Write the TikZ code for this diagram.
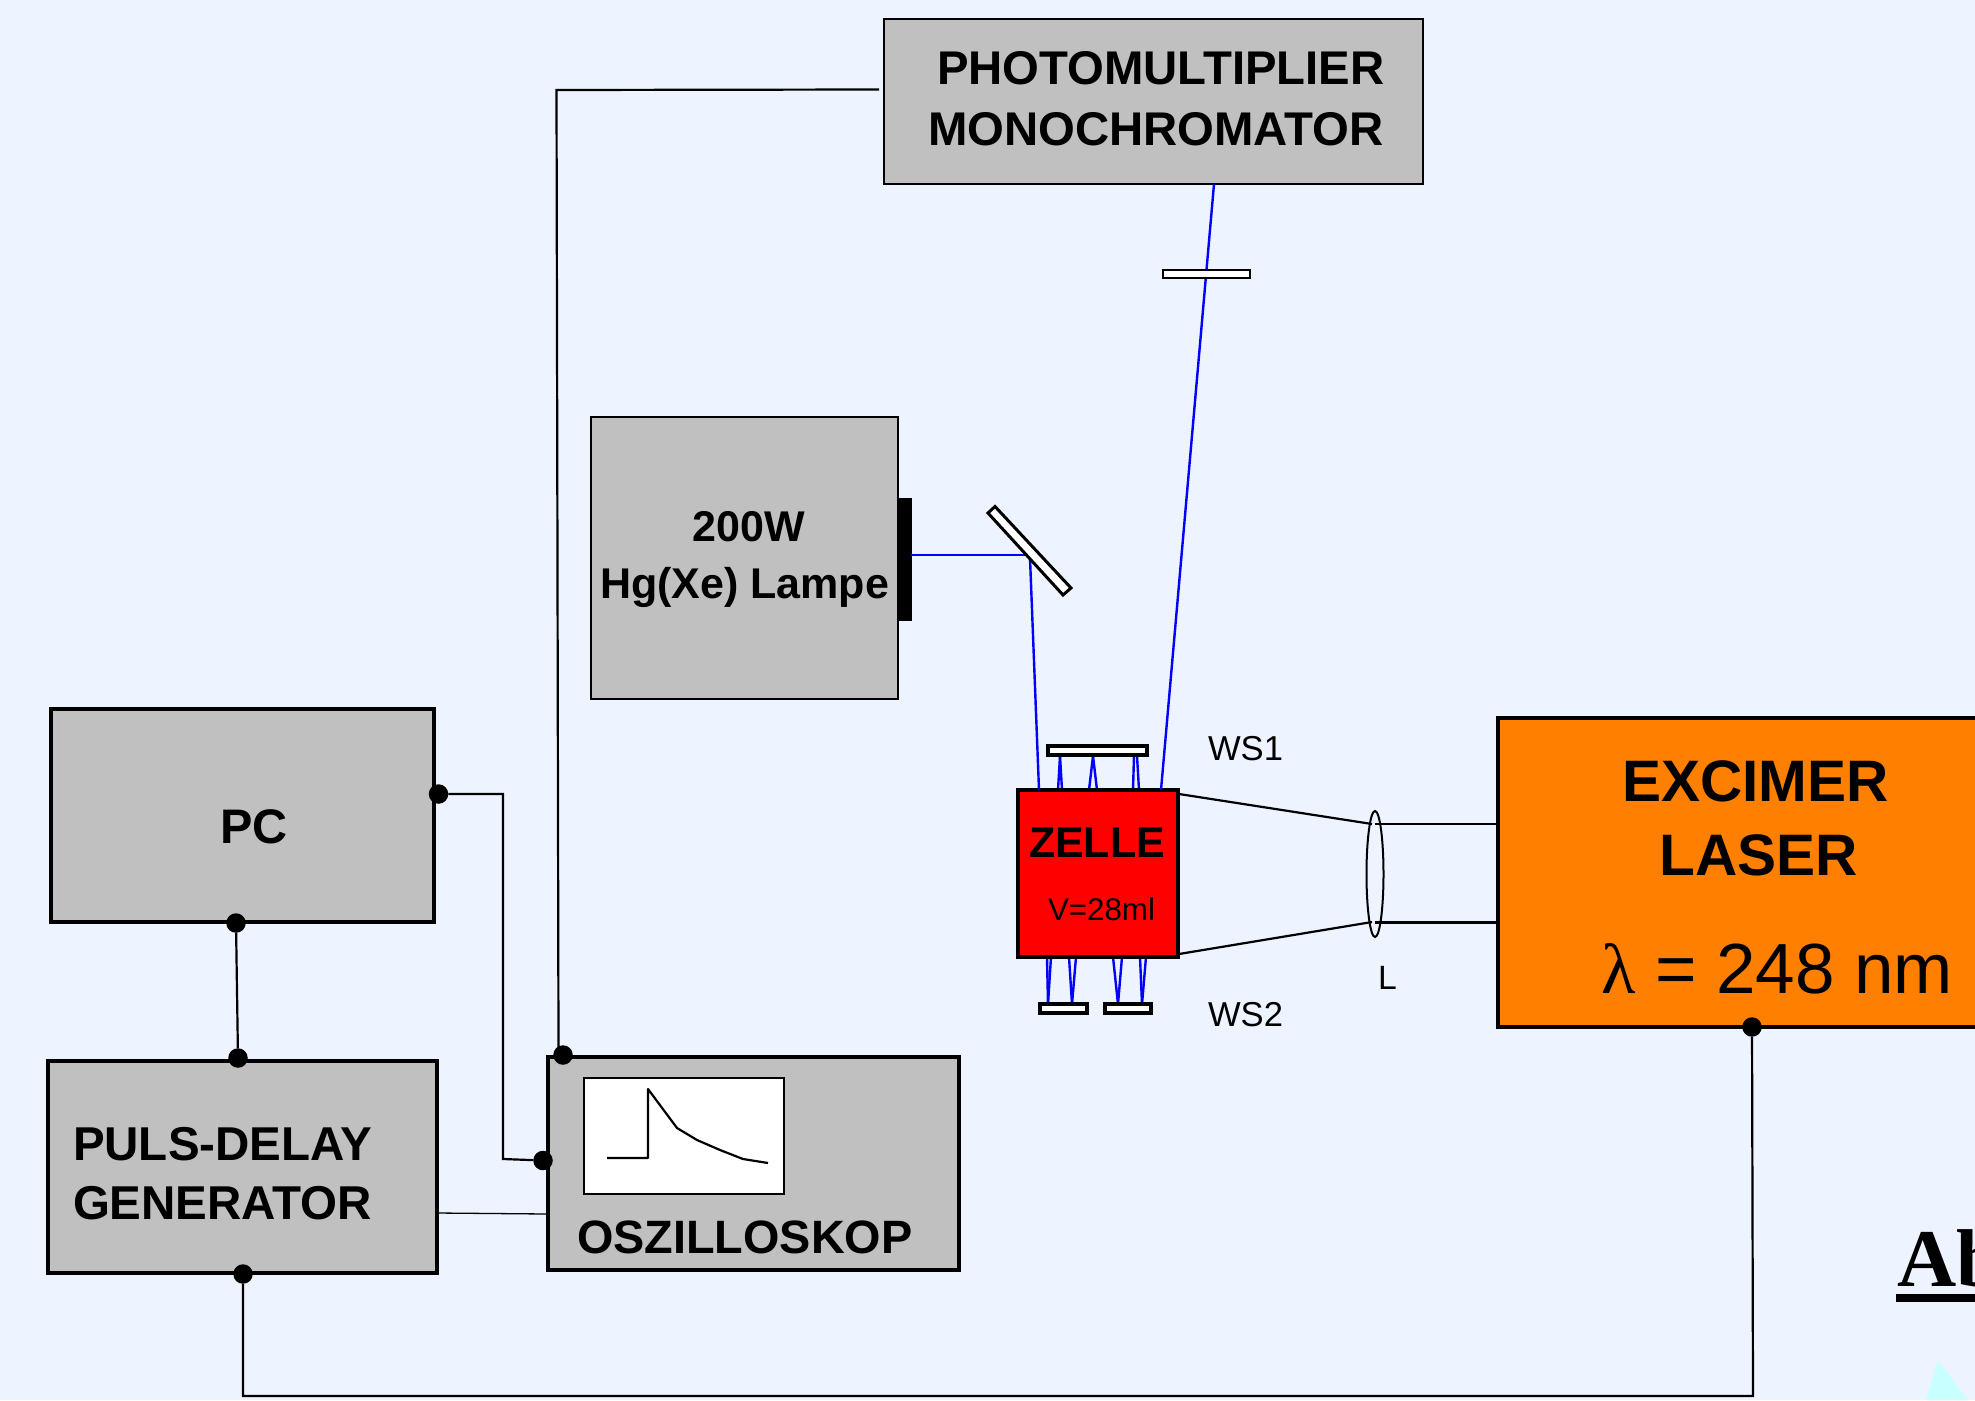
\documentclass[tikz,border=0pt]{standalone}
\usepackage{fontspec}
\usetikzlibrary{shapes.geometric}
\setmainfont{Liberation Sans}
\newfontfamily\serifface{Liberation Serif}
\definecolor{bgc}{HTML}{EEF4FF}
\definecolor{boxgray}{HTML}{C0C0C0}
\definecolor{laserc}{HTML}{FF8000}
\definecolor{tric}{HTML}{C8FFFF}
\newcommand{\fs}[2]{\fontsize{#1}{#2}\selectfont}
% \bx{style}{name}{x1}{y1}{x2}{y2}
\newcommand{\bx}[6]{\pgfmathsetmacro{\bxw}{#5-#3}\pgfmathsetmacro{\bxh}{#6-#4}%
  \node[#1,minimum width=\bxw pt,minimum height=\bxh pt,anchor=north west] (#2) at (#3,#4) {};}
\tikzset{
  thinbox/.style={draw=black,line width=1.4pt,inner sep=0pt,outer sep=0pt,fill=boxgray},
  thickbox/.style={draw=black,line width=4pt,inner sep=0pt,outer sep=0pt,fill=boxgray},
  plate/.style={draw=black,line width=3.2pt,inner sep=0pt,outer sep=0pt,fill=white},
  wire/.style={draw=black,line width=2.2pt},
  thinwire/.style={draw=black,line width=1.3pt},
  ray/.style={draw=blue,line width=2.4pt},
  junction/.style={circle,fill=black,draw=none,minimum size=19.5pt,inner sep=0pt,outer sep=0pt},
  txt/.style={anchor=base west,inner sep=0pt,outer sep=0pt,text=black,align=left}
}
\begin{document}
\begin{tikzpicture}[x=1pt,y=-1pt]
\useasboundingbox (0,0) rectangle (1975,1400);
\clip (0,0) rectangle (1975,1400);
\fill[bgc] (0,0) rectangle (1975,1400);

% free points of the beams and wires
\coordinate (pmwire) at (879,89.5);
\coordinate (wirecorner) at (556.5,90);
\coordinate (oszwire) at (558.5,1052);
\coordinate (pmray) at (1214,184);
\coordinate (cellrayR) at (1161,790);
\coordinate (lampray) at (911,555);
\coordinate (mirrorhit) at (1029,555);
\coordinate (mirrorout) at (1030,558);
\coordinate (cellrayL) at (1039,790);
\coordinate (pccorner) at (503,794);
\coordinate (pcdown) at (503,1159);
\coordinate (bottomL) at (243,1396);
\coordinate (bottomR) at (1753,1396);
\coordinate (pulsout) at (437,1213);
\coordinate (oszin) at (547,1214);
\coordinate (beamA) at (1179,794);
\coordinate (beamB) at (1179,954);
\coordinate (lensA) at (1372,824);
\coordinate (lensB) at (1372,922);
\coordinate (lensC) at (1375,824);
\coordinate (lensD) at (1375,922.5);
\coordinate (laserA) at (1498,824);
\coordinate (laserB) at (1498,922.5);

% beams between cell and windows
\foreach \a/\b in {1058/1060,1062/1060,1089/1093,1097/1093,1133/1134,1139/1137}
  \draw[ray] (\a,790) -- (\b,756);
\foreach \a/\b in {1047/1048,1051/1048,1069/1072,1076/1072,1113/1118,1122/1118,1140/1142,1146/1142}
  \draw[ray] (\a,957) -- (\b,1004);

% boxes
\bx{thinbox}{pm}{884}{19}{1423}{184}
\bx{thinbox}{lamp}{591}{417}{898}{699}
\bx{thickbox}{pc}{50.5}{708.5}{434}{922}
\bx{thickbox}{puls}{48}{1060.5}{437}{1273}
\bx{thickbox}{osz}{548}{1057}{959}{1269.5}
\bx{thickbox,fill=laserc}{laser}{1498}{718}{2030}{1026.5}
\bx{thickbox,fill=red}{zelle}{1018}{790}{1177.5}{957}
\node[fill=black,inner sep=0pt,minimum width=14pt,minimum height=123pt,anchor=north west] (lampexit) at (898,498) {};
\bx{thinbox,fill=white,line width=2pt}{screen}{583.5}{1077.5}{783.5}{1193.5}
\bx{plate}{ws1}{1048}{746}{1147}{755}
\bx{plate}{ws2a}{1040}{1004}{1087}{1013}
\bx{plate}{ws2b}{1105}{1004}{1151}{1013}

% oscilloscope trace
\draw[line width=2.2pt,line join=round] (607,1158) -- (648,1158) -- (648,1089) -- (677,1128) -- (697,1140) -- (720,1150) -- (743,1159) -- (768,1163);

% beams
\draw[ray] (pmray) -- (cellrayR);
\draw[ray] (lampray) -- (mirrorhit);
\draw[ray] (mirrorout) -- (cellrayL);
\bx{plate,line width=1.8pt}{filter}{1163}{270}{1250}{278}
\draw[plate,line width=3pt] (988,513) -- (995,506.5) -- (1071,588) -- (1063,595) -- cycle;

% beam to lens
\draw[wire] (beamA) -- (lensA);
\draw[wire] (beamB) -- (lensB);
\draw[wire] (lensC) -- (laserA);
\draw[wire] (lensD) -- (laserB);
\node[ellipse,draw=black,line width=2pt,minimum width=17pt,minimum height=126pt,inner sep=0pt] (lens) at (1375,874) {};

% junctions
\node[junction] (dpc) at (438.5,794) {};
\node[junction] (dpcb) at (236,923) {};
\node[junction] (dpult) at (238,1058) {};
\node[junction] (dpulb) at (243,1274) {};
\node[junction] (doszt) at (563,1055) {};
\node[junction] (doszl) at (543,1160.5) {};
\node[junction] (dlaser) at (1752,1027) {};

% wires
\draw[wire] (dpc) -- (pccorner) -- (pcdown) -- (doszl);
\draw[wire] (dpcb) -- (dpult);
\draw[wire] (dpulb) -- (bottomL) -- (bottomR) -- (dlaser);
\draw[wire] (pmwire) -- (wirecorner) -- (oszwire);
\draw[thinwire] (pulsout) -- (oszin);

% labels
\node[txt,font=\bfseries\fs{47.3}{61}] (tpm) at (928,145) {\hspace*{9pt}PHOTOMULTIPLIER\\MONOCHROMATOR};
\node[txt,font=\bfseries\fs{43}{57},align=center] (tlamp) at (600,598) {\hspace*{9pt}200W\\Hg(Xe) Lampe};
\node[txt,font=\bfseries\fs{48.5}{58}] (tpc) at (220,843) {PC};
\node[txt,font=\bfseries\fs{47.5}{59}] (tpuls) at (73,1219) {PULS-DELAY\\GENERATOR};
\node[txt,font=\bfseries\fs{46.8}{56}] (tosz) at (577,1253) {OSZILLOSKOP};
\node[txt,font=\bfseries\fs{43}{50}] (tzelle) at (1029,857) {ZELLE};
\node[txt,font=\fs{31.3}{38}] (tvol) at (1048,920) {V=28ml};
\node[txt,font=\fs{34.6}{40}] (tws1) at (1208,760) {WS1};
\node[txt,font=\fs{34.6}{40}] (tws2) at (1208,1026) {WS2};
\node[txt,font=\fs{33.7}{40}] (tl) at (1378,989) {L};
\node[txt,font=\bfseries\fs{58.5}{74},align=center] (tlaser) at (1622,875) {EXCIMER\\\hspace*{7pt}LASER};
\node[txt,font=\fs{71}{80}] (tlam) at (1601,993) {{\serifface λ} = 248 nm};

% cut-off items on the right edge
\node[txt,font=\serifface\bfseries\fs{82}{90}] (tab) at (1897,1286) {Ab};
\fill[black] (1896,1294) rectangle (1975,1302);
\fill[tric] (1938,1360) -- (1926,1400) -- (1968,1400) -- cycle;
\end{tikzpicture}
\end{document}
